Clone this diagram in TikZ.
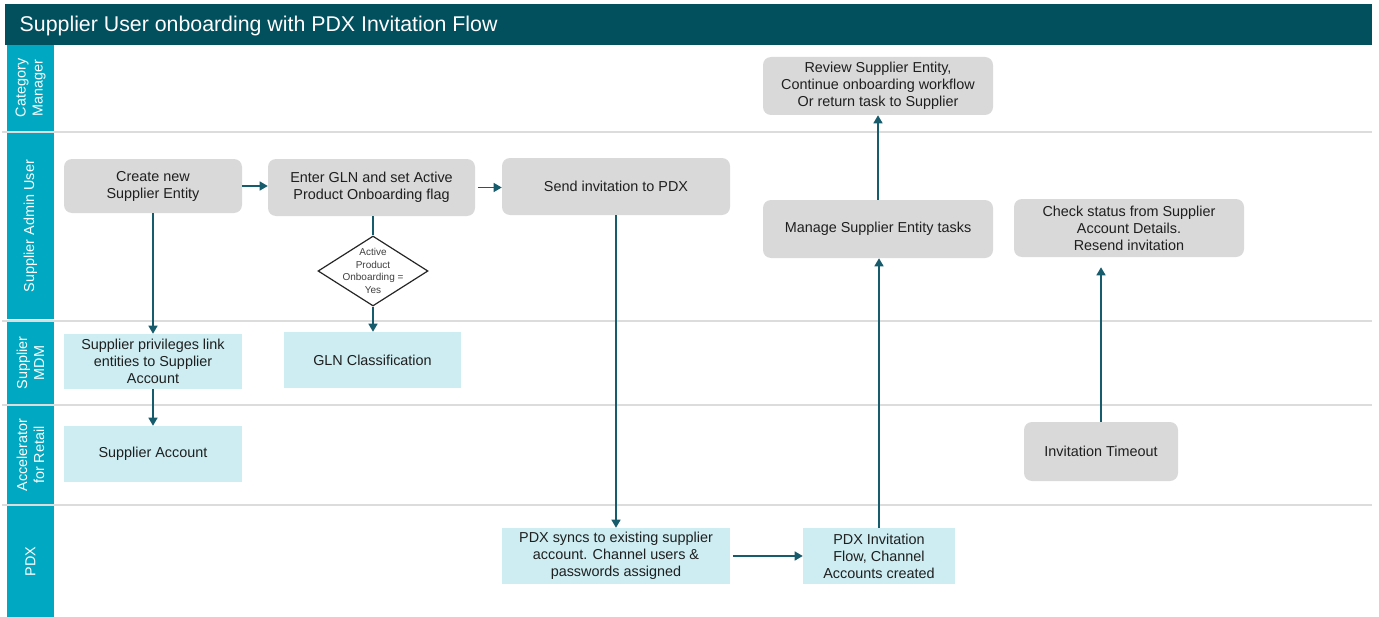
\documentclass[tikz,border=0pt]{standalone}
\usepackage{fontspec}
\setmainfont{Liberation Sans}
\usetikzlibrary{shapes.geometric, arrows.meta}

\definecolor{titlebar}{HTML}{024F5E}
\definecolor{lanehead}{HTML}{00A9C1}
\definecolor{taskgray}{HTML}{D9D9D9}
\definecolor{syscyan}{HTML}{CDEDF2}
\definecolor{flowline}{HTML}{165C6C}
\definecolor{laneline}{HTML}{DCDCDC}

\begin{document}
\begin{tikzpicture}[x=0.75pt, y=-0.75pt,
		every node/.style={font=\fontsize{10.8}{12.75}\selectfont, align=center, text=black!88},
		task/.style={rectangle, rounded corners=6pt, fill=taskgray, inner sep=2pt},
		sys/.style={rectangle, fill=syscyan, inner sep=2pt},
		decision/.style={diamond, draw=black!85, line width=0.9pt, fill=white, minimum width=82.5pt, minimum height=52.5pt, inner sep=0pt},
		flow/.style={draw=flowline, line width=1pt, -{Triangle[width=6.75pt,length=6pt]}},
		lanebox/.style={rectangle, fill=lanehead, text=white, rotate=90, inner sep=0pt, minimum height=35.25pt}]
	\useasboundingbox (0,0) rectangle (1379,617);
	
	% title bar
	\fill[titlebar] (5,4) rectangle (1372,45);
	\node[anchor=west, text=white, font=\fontsize{16}{18}\selectfont] (title) at (15,26) {Supplier User onboarding with PDX Invitation Flow};
	
	% swim lanes
	\foreach \ymid/\lanelen/\lab [count=\i] in {88/64.5/{Category\\Manager}, 226/139.5/{Supplier Admin User}, 363/61.5/{Supplier\\MDM}, 455/73.5/{Accelerator\\for Retail}, 561.5/83.25/PDX}
		\node[lanebox, minimum width=\lanelen pt] (lane\i) at (30.5,\ymid) {\lab};
	\foreach \y in {132,321,405,505}
		\draw[laneline, line width=1pt] (2,\y) -- (1372,\y);
	
	% tasks
	\node[task, minimum width=133.5pt, minimum height=40.5pt] (create) at (153,186) {Create new\\Supplier Entity};
	\node[task, minimum width=155.25pt, minimum height=42.75pt] (glnflag) at (371.5,187.5) {Enter GLN and set Active\\Product Onboarding flag};
	\node[task, minimum width=171pt, minimum height=42.75pt] (invite) at (616,186.5) {Send invitation to PDX};
	\node[task, minimum width=172.5pt, minimum height=43.5pt] (review) at (878,86) {Review Supplier Entity,\\Continue onboarding workflow\\Or return task to Supplier};
	\node[task, minimum width=172.5pt, minimum height=43.5pt] (manage) at (878,229) {Manage Supplier Entity tasks};
	\node[task, minimum width=172.5pt, minimum height=43.5pt] (status) at (1129,228) {Check status from Supplier\\Account Details.\\Resend invitation};
	\node[task, minimum width=115.5pt, minimum height=44.25pt] (timeout) at (1101,451.5) {Invitation Timeout};
	
	\node[decision, label={[font=\fontsize{7.5}{9.4}\selectfont, align=center, text=black!75]center:{Active\\Product\\Onboarding =\\Yes}}] (apflag) at (373,271) {};
	
	% system steps
	\node[sys, minimum width=133.5pt, minimum height=41.25pt] (privileges) at (153,361.5) {Supplier privileges link\\entities to Supplier\\Account};
	\node[sys, minimum width=132.75pt, minimum height=42pt] (glnclass) at (372.5,360) {GLN Classification};
	\node[sys, minimum width=133.5pt, minimum height=42pt] (account) at (153,454) {Supplier Account};
	\node[sys, minimum width=171pt, minimum height=42pt] (pdxsync) at (616,556) {PDX syncs to existing supplier\\account. Channel users \&\\passwords assigned};
	\node[sys, minimum width=114pt, minimum height=42pt] (pdxflow) at (879,556) {PDX Invitation\\Flow, Channel\\Accounts created};
	
	% connectors
	\draw[flow] (create.east) -- (glnflag.west |- create.east);
	\draw[flow, shorten <=2pt] (glnflag.east) -- (invite.west |- glnflag.east);
	\draw[flow] (create) -- (privileges);
	\draw[draw=flowline, line width=1pt] (apflag.north |- glnflag.south) -- (apflag.north);
	\draw[flow] (apflag.south) -- (apflag.south |- glnclass.north);
	\draw[flow] (privileges) -- (account);
	\draw[flow] (invite) -- (pdxsync);
	\draw[flow, shorten <=2pt] (pdxsync.east) -- (pdxflow.west);
	\draw[flow] (pdxflow.north) -- (pdxflow.north |- manage.south);
	\draw[flow] (manage) -- (review);
	\draw[flow, shorten >=7.5pt] (timeout.north) -- (timeout.north |- status.south);
\end{tikzpicture}
\end{document}
